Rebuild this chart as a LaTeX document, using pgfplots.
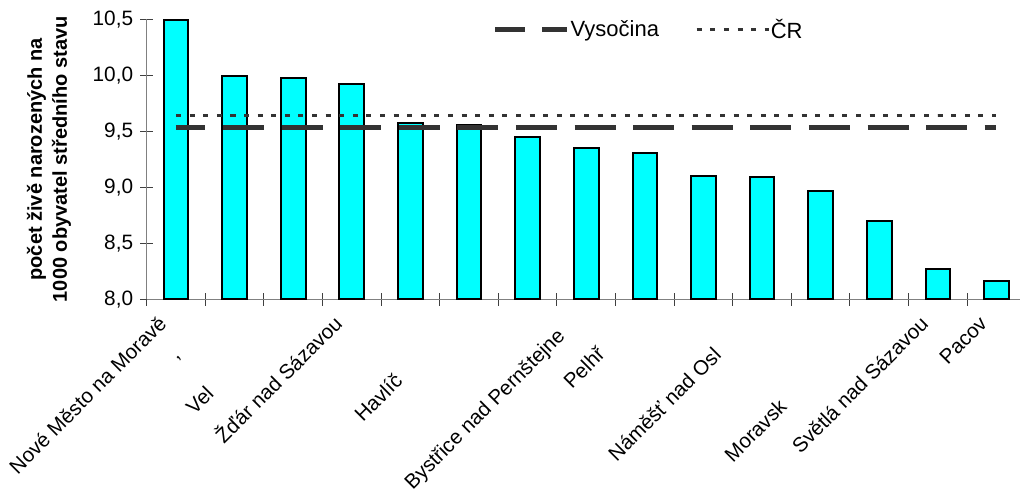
\documentclass[border=0pt]{standalone}
\usepackage{fontspec}
\setmainfont{Liberation Sans}
\usepackage{pgfplots}
\pgfplotsset{compat=1.18}
\definecolor{barcyan}{RGB}{0,255,255}
\definecolor{linegray}{RGB}{51,51,51}
\definecolor{axisgray}{RGB}{128,128,128}
\begin{document}
\begin{tikzpicture}
\begin{axis}[
  at={(0,0)}, anchor=south west,
  scale only axis, width=436.65pt, height=140pt,
  xmin=0.5, xmax=15.403, ymin=8, ymax=10.5,
  axis x line*=bottom, axis y line*=left,
  axis line style={draw=axisgray, line width=0.7pt},
  xtick={0.5,1.5,...,14.5}, xticklabels={},
  ytick={8,8.5,...,10.5},
  tick align=center, major tick length=6.5pt,
  tick style={draw=black!75, line width=0.5pt},
  yticklabel style={/pgf/number format/.cd, fixed, fixed zerofill, precision=1, use comma, assume math mode=true},
  tick label style={font=\fontsize{10.4}{12}\selectfont},
  clip mode=individual,
  ylabel={počet živě narozených na\\1000 obyvatel středního stavu},
  ylabel style={at={(axis description cs:-0.0863,0.5)}, anchor=south, align=center, inner sep=0pt, font=\fontsize{10}{12.5}\selectfont\bfseries},
  legend columns=2,
  legend style={draw=none, fill=none, at={(axis description cs:0.3965,0.9618)}, anchor=west, inner sep=0pt, outer sep=0pt,
    font=\fontsize{11}{13}\selectfont, nodes={inner sep=0.3pt},
    /tikz/every even column/.append style={column sep=17.8pt}},
  legend image code/.code={\draw[#1] (0pt,0pt) -- (36pt,0pt);},
]
\addplot[ybar, bar width=12.3pt, fill=barcyan, draw=black, line width=1pt, forget plot] coordinates {
  (1,10.49) (2,9.99) (3,9.975) (4,9.92) (5,9.57) (6,9.56) (7,9.45) (8,9.355)
  (9,9.31) (10,9.10) (11,9.09) (12,8.97) (13,8.70) (14,8.27) (15,8.16)};
\addplot[linegray, line width=2.5pt, dash pattern=on 20.5pt off 8.8pt, dash phase=5.85pt] coordinates {
  (1,9.535) (2,9.535) (3,9.535) (4,9.535) (5,9.535) (6,9.535) (7,9.535) (8,9.535)
  (9,9.535) (10,9.535) (11,9.535) (12,9.535) (13,9.535) (14,9.535) (15,9.535)};
\addlegendentry{Vysočina}
\addplot[linegray, line width=1.5pt, dash pattern=on 2.5pt off 4.3pt] coordinates {
  (1,9.64) (2,9.64) (3,9.64) (4,9.64) (5,9.64) (6,9.64) (7,9.64) (8,9.64)
  (9,9.64) (10,9.64) (11,9.64) (12,9.64) (13,9.64) (14,9.64) (15,9.64)};
\addlegendentry{ČR}
\begin{scope}[every node/.style={rotate=45, anchor=base east, inner sep=0pt, font=\fontsize{10.25}{12}\selectfont}]
\node at (axis cs:0.8635,7.7705) {Nové Město na Moravě};
\node at (axis cs:2.8635,7.7705) {Vel\phantom{ké Meziříčí}};
\node at (axis cs:3.8635,7.7705) {Žďár nad Sázavou};
\node at (axis cs:5.8635,7.7705) {Havlíč\phantom{kův Brod}};
\node at (axis cs:7.8635,7.7705) {Bystřice nad Pernštejne\phantom{m}};
\node at (axis cs:8.8635,7.7705) {Pelhř\phantom{imov}};
\node at (axis cs:10.8635,7.7705) {Náměšť nad Osl\phantom{avou}};
\node at (axis cs:12.8635,7.7705) {Moravsk\phantom{é Budějovice}};
\node at (axis cs:13.8635,7.7705) {Světlá nad Sázavou};
\node at (axis cs:14.8635,7.7705) {Pacov};
\node[anchor=center] at (axis cs:1.051,7.467) {,};
\end{scope}
\end{axis}
\pgfresetboundingbox
\useasboundingbox (-73.35pt,-96.85pt) rectangle (436.65pt,149.65pt);
\end{tikzpicture}
\end{document}
